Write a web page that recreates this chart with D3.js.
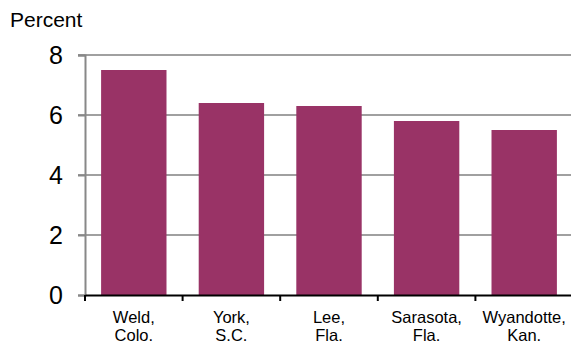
<!DOCTYPE html>
<html lang="en">
<head>
    <meta charset="UTF-8">
    <title>Percent by county</title>
    <script src="https://cdn.jsdelivr.net/npm/d3@7"></script>
    <style>
    html, body{padding: 0; margin: 0; background-color: #fff; font-family: 'Liberation Sans', Arial, sans-serif;}
    svg{display: block;}
    </style>
</head>
<body>
    <div class="marco"></div>

    <script>
    // datos
    const condados = ["Weld,|Colo.", "York,|S.C.", "Lee,|Fla.", "Sarasota,|Fla.", "Wyandotte,|Kan."],
        valores = [7.5, 6.4, 6.3, 5.8, 5.5],
        ticksY = [0, 2, 4, 6, 8];

    var width = 571, height = 343,
        margin = { top: 55, left: 85, bottom: 48, right: -2 },
        innerWidth = width - margin.left - margin.right,
        innerHeight = height - margin.top - margin.bottom;

    var svg = d3.select(".marco").append("svg")
        .attr("width", width)
        .attr("height", height);

    var g = svg.append("g")
        .attr("transform", `translate(${margin.left}, ${margin.top})`);

    var x = d3.scaleBand().domain(condados).range([0, innerWidth])
            .paddingInner(0.33).paddingOuter(0.165),
        y = d3.scaleLinear().domain([0, 8]).range([innerHeight, 0]);

    // titulo eje
    svg.append("text")
        .attr("x", 10).attr("y", 27)
        .attr("font-size", 21).attr("fill", "#000")
        .text("Percent");

    // rejilla
    g.selectAll(".grid")
        .data(ticksY.filter(d => d > 0))
        .enter().append("line")
        .attr("x1", -7).attr("x2", innerWidth)
        .attr("y1", d => y(d)).attr("y2", d => y(d))
        .attr("stroke", "#a0a0a0").attr("stroke-width", 2);

    // eje vertical
    var ejeY = g.append("g")
        .call(d3.axisLeft(y).tickValues(ticksY).tickSize(7).tickPadding(15));
    ejeY.select(".domain").attr("stroke", "#888").attr("stroke-width", 2);
    ejeY.selectAll(".tick line").attr("stroke", "#888").attr("stroke-width", 2);
    ejeY.selectAll("text").attr("font-size", 25).attr("fill", "#000")
        .attr("font-family", "'Liberation Sans', Arial, sans-serif");

    // barras
    g.selectAll("rect")
        .data(valores)
        .enter().append("rect")
        .attr("x", (d, i) => x(condados[i]))
        .attr("width", x.bandwidth())
        .attr("y", d => y(d))
        .attr("height", d => innerHeight - y(d))
        .attr("fill", "#993366");

    // eje horizontal
    var ejeX = g.append("g")
        .attr("transform", `translate(0, ${innerHeight})`)
        .call(d3.axisBottom(x).tickSize(0).tickFormat(""));
    ejeX.select(".domain").attr("stroke", "#000").attr("stroke-width", 2);

    var hueco = (x.step() - x.bandwidth()) / 2;
    ejeX.selectAll(".sep")
        .data(condados)
        .enter().append("line")
        .attr("x1", d => x(d) - hueco).attr("x2", d => x(d) - hueco)
        .attr("y1", 0).attr("y2", 6)
        .attr("stroke", "#000").attr("stroke-width", 2);

    var etiquetas = ejeX.selectAll(".etq")
        .data(condados)
        .enter().append("text")
        .attr("text-anchor", "middle")
        .attr("font-size", 16.5)
        .attr("fill", "#000")
        .attr("font-family", "'Liberation Sans', Arial, sans-serif")
        .attr("transform", d => `translate(${x(d) + x.bandwidth() / 2}, 0)`);
    etiquetas.selectAll("tspan")
        .data(d => d.split("|"))
        .enter().append("tspan")
        .attr("x", 0)
        .attr("y", (d, i) => 28 + i * 18)
        .text(d => d);
    </script>
</body>
</html>
